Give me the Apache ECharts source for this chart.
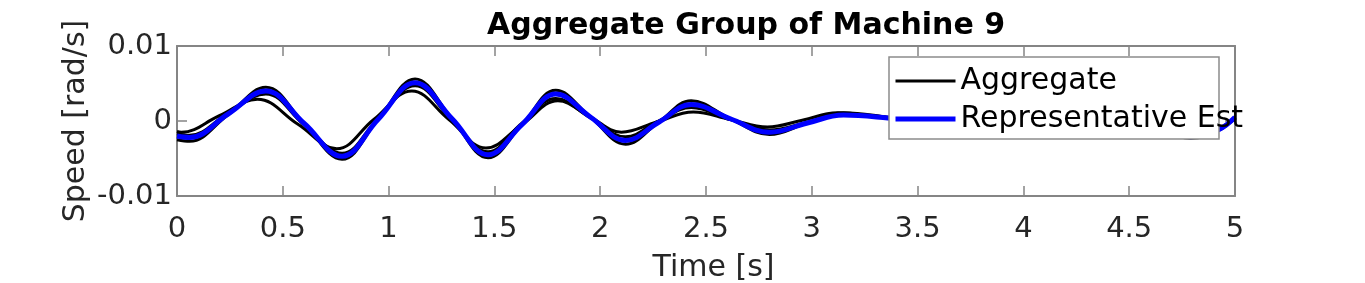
<!DOCTYPE html>
<html>
<head>
<meta charset="utf-8">
<script src="https://cdn.jsdelivr.net/npm/echarts@6/dist/echarts.min.js"></script>
<style>
html,body{margin:0;padding:0;background:#fff;}
#chart{width:1365px;height:283px;}
</style>
</head>
<body>
<div id="chart"></div>
<script>
// ---- data ----
const titleText = 'Aggregate Group of Machine 9';
const xTickValues = [0, 0.5, 1, 1.5, 2, 2.5, 3, 3.5, 4, 4.5, 5];
const yTickValues = [-0.01, 0, 0.01];

const timeMain = [0, 0.06, 0.24, 0.42, 0.60, 0.78, 0.95, 1.125, 1.30, 1.47, 1.63, 1.79, 1.955, 2.12, 2.275, 2.43, 2.615, 2.80, 2.975, 3.15, 3.36, 3.55, 3.85, 4.15, 4.45, 4.62, 4.79, 4.92, 5.0];
const representativeEst = [-0.0020, -0.0022, 0.0009, 0.0040, -0.0003, -0.0047, 0.0002, 0.0051, 0.0003, -0.0045, -0.0005, 0.0036, 0.0005, -0.0026, -0.0002, 0.0022, 0.0003, -0.0015, -0.0003, 0.0008, 0.0004, -0.0002, 0.0002, -0.0003, 0.0008, -0.0007, -0.0021, -0.0012, 0.0005];
const aggregateB = [-0.0025, -0.0027, 0.0008, 0.0045, -0.0003, -0.0051, 0.0002, 0.0056, 0.0003, -0.0049, -0.0005, 0.0041, 0.0005, -0.0031, -0.0002, 0.0027, 0.0003, -0.0018, -0.0003, 0.0011, 0.0005, -0.0002, 0.0003, -0.0003, 0.0009, -0.0007, -0.0023, -0.0013, 0.0004];
const aggregateC = [-0.0017, -0.0019, 0.0010, 0.0036, -0.0005, -0.0043, 0.0003, 0.0047, 0.0001, -0.0041, -0.0003, 0.0030, 0.0004, -0.0021, 0.0000, 0.0018, 0.0002, -0.0012, -0.0002, 0.0009, 0.0004, -0.0001, 0.0002, -0.0002, 0.0007, -0.0006, -0.0019, -0.0011, 0.0004];

const timeA = [0, 0.02, 0.20, 0.38, 0.57, 0.755, 0.93, 1.11, 1.285, 1.46, 1.63, 1.80, 1.95, 2.10, 2.27, 2.44, 2.615, 2.79, 2.955, 3.12, 3.33, 3.55, 3.85, 4.15, 4.45, 4.62, 4.79, 4.92, 5.0];
const aggregateA = [-0.0014, -0.0015, 0.0007, 0.0029, -0.0004, -0.0037, 0.0002, 0.0040, 0.0002, -0.0036, -0.0005, 0.0027, 0.0006, -0.0015, -0.0001, 0.0012, 0.0002, -0.0008, 0.0001, 0.0011, 0.0005, -0.0001, 0.0002, -0.0002, 0.0006, -0.0005, -0.0017, -0.0010, 0.0003];

// ---- build chart ----
function zip(t, v) { return t.map((x, i) => [x, v[i]]); }
const FONT = 'DejaVu Sans';
const AX = '#858585';
const TXT = '#262626';

const chart = echarts.init(document.getElementById('chart'), null, {renderer: 'canvas'});

function xAxisCfg(bottom) {
  return {
    type: 'value', min: xTickValues[0], max: xTickValues[xTickValues.length - 1], interval: 0.5,
    position: bottom ? 'bottom' : 'top',
    name: bottom ? 'Time [s]' : '', nameLocation: 'middle', nameGap: 57, nameMoveOverlap: false,
    nameTextStyle: {fontFamily: FONT, fontSize: 30, color: TXT, padding: [0, 0, 0, 15]},
    axisLine: {show: true, onZero: false, lineStyle: {color: AX, width: 2}},
    axisTick: {show: true, inside: true, length: 10, lineStyle: {color: AX, width: 1.5}},
    axisLabel: {show: bottom, fontFamily: FONT, fontSize: 29, color: TXT, margin: 19},
    splitLine: {show: false}
  };
}
function yAxisCfg(left) {
  return {
    type: 'value', min: yTickValues[0], max: yTickValues[yTickValues.length - 1], interval: 0.01,
    position: left ? 'left' : 'right',
    name: left ? 'Speed [rad/s]' : '', nameLocation: 'middle', nameGap: 86, nameMoveOverlap: false,
    nameTextStyle: {fontFamily: FONT, fontSize: 30, color: TXT},
    axisLine: {show: true, onZero: false, lineStyle: {color: AX, width: 2}},
    axisTick: {show: true, inside: true, length: 10, lineStyle: {color: AX, width: 1.5}},
    axisLabel: {show: left, fontFamily: FONT, fontSize: 29, color: TXT, margin: 5},
    splitLine: {show: false}
  };
}

const blackLine = {color: '#000000', width: 3};
function blackSeries(t, v) {
  return {
    name: 'Aggregate', type: 'line', data: zip(t, v), smooth: 0.4,
    symbol: 'none', lineStyle: blackLine, itemStyle: {color: '#000000'}, z: 2, silent: true
  };
}

chart.setOption({
  animation: false,
  backgroundColor: '#ffffff',
  title: {
    text: titleText, left: 487, top: 11, padding: 0,
    textStyle: {fontFamily: FONT, fontSize: 30, fontWeight: 'bold', color: '#000'}
  },
  grid: {left: 177, right: 130, top: 46, bottom: 87, containLabel: false, outerBoundsMode: 'none'},
  xAxis: [xAxisCfg(true), xAxisCfg(false)],
  yAxis: [yAxisCfg(true), yAxisCfg(false)],
  legend: {
    data: ['Aggregate', 'Representative Est'],
    orient: 'vertical', left: 893, top: 66, padding: 0,
    itemWidth: 60, itemHeight: 14, itemGap: 8,
    itemStyle: {opacity: 0},
    lineStyle: {width: 'inherit'},
    textStyle: {fontFamily: FONT, fontSize: 30, color: '#000', lineHeight: 30},
    z: 10
  },
  graphic: [{
    type: 'rect', z: 5, silent: true,
    shape: {x: 889, y: 57, width: 330, height: 82},
    style: {fill: '#ffffff', stroke: '#8c8c8c', lineWidth: 1.5}
  }],
  series: [
    blackSeries(timeA, aggregateA),
    blackSeries(timeMain, aggregateB),
    blackSeries(timeMain, aggregateC),
    {
      name: 'Representative Est', type: 'line', data: zip(timeMain, representativeEst),
      smooth: 0.4, symbol: 'none',
      lineStyle: {color: '#0000ff', width: 5}, itemStyle: {color: '#0000ff'}, z: 3, silent: true
    }
  ]
});
</script>
</body>
</html>
